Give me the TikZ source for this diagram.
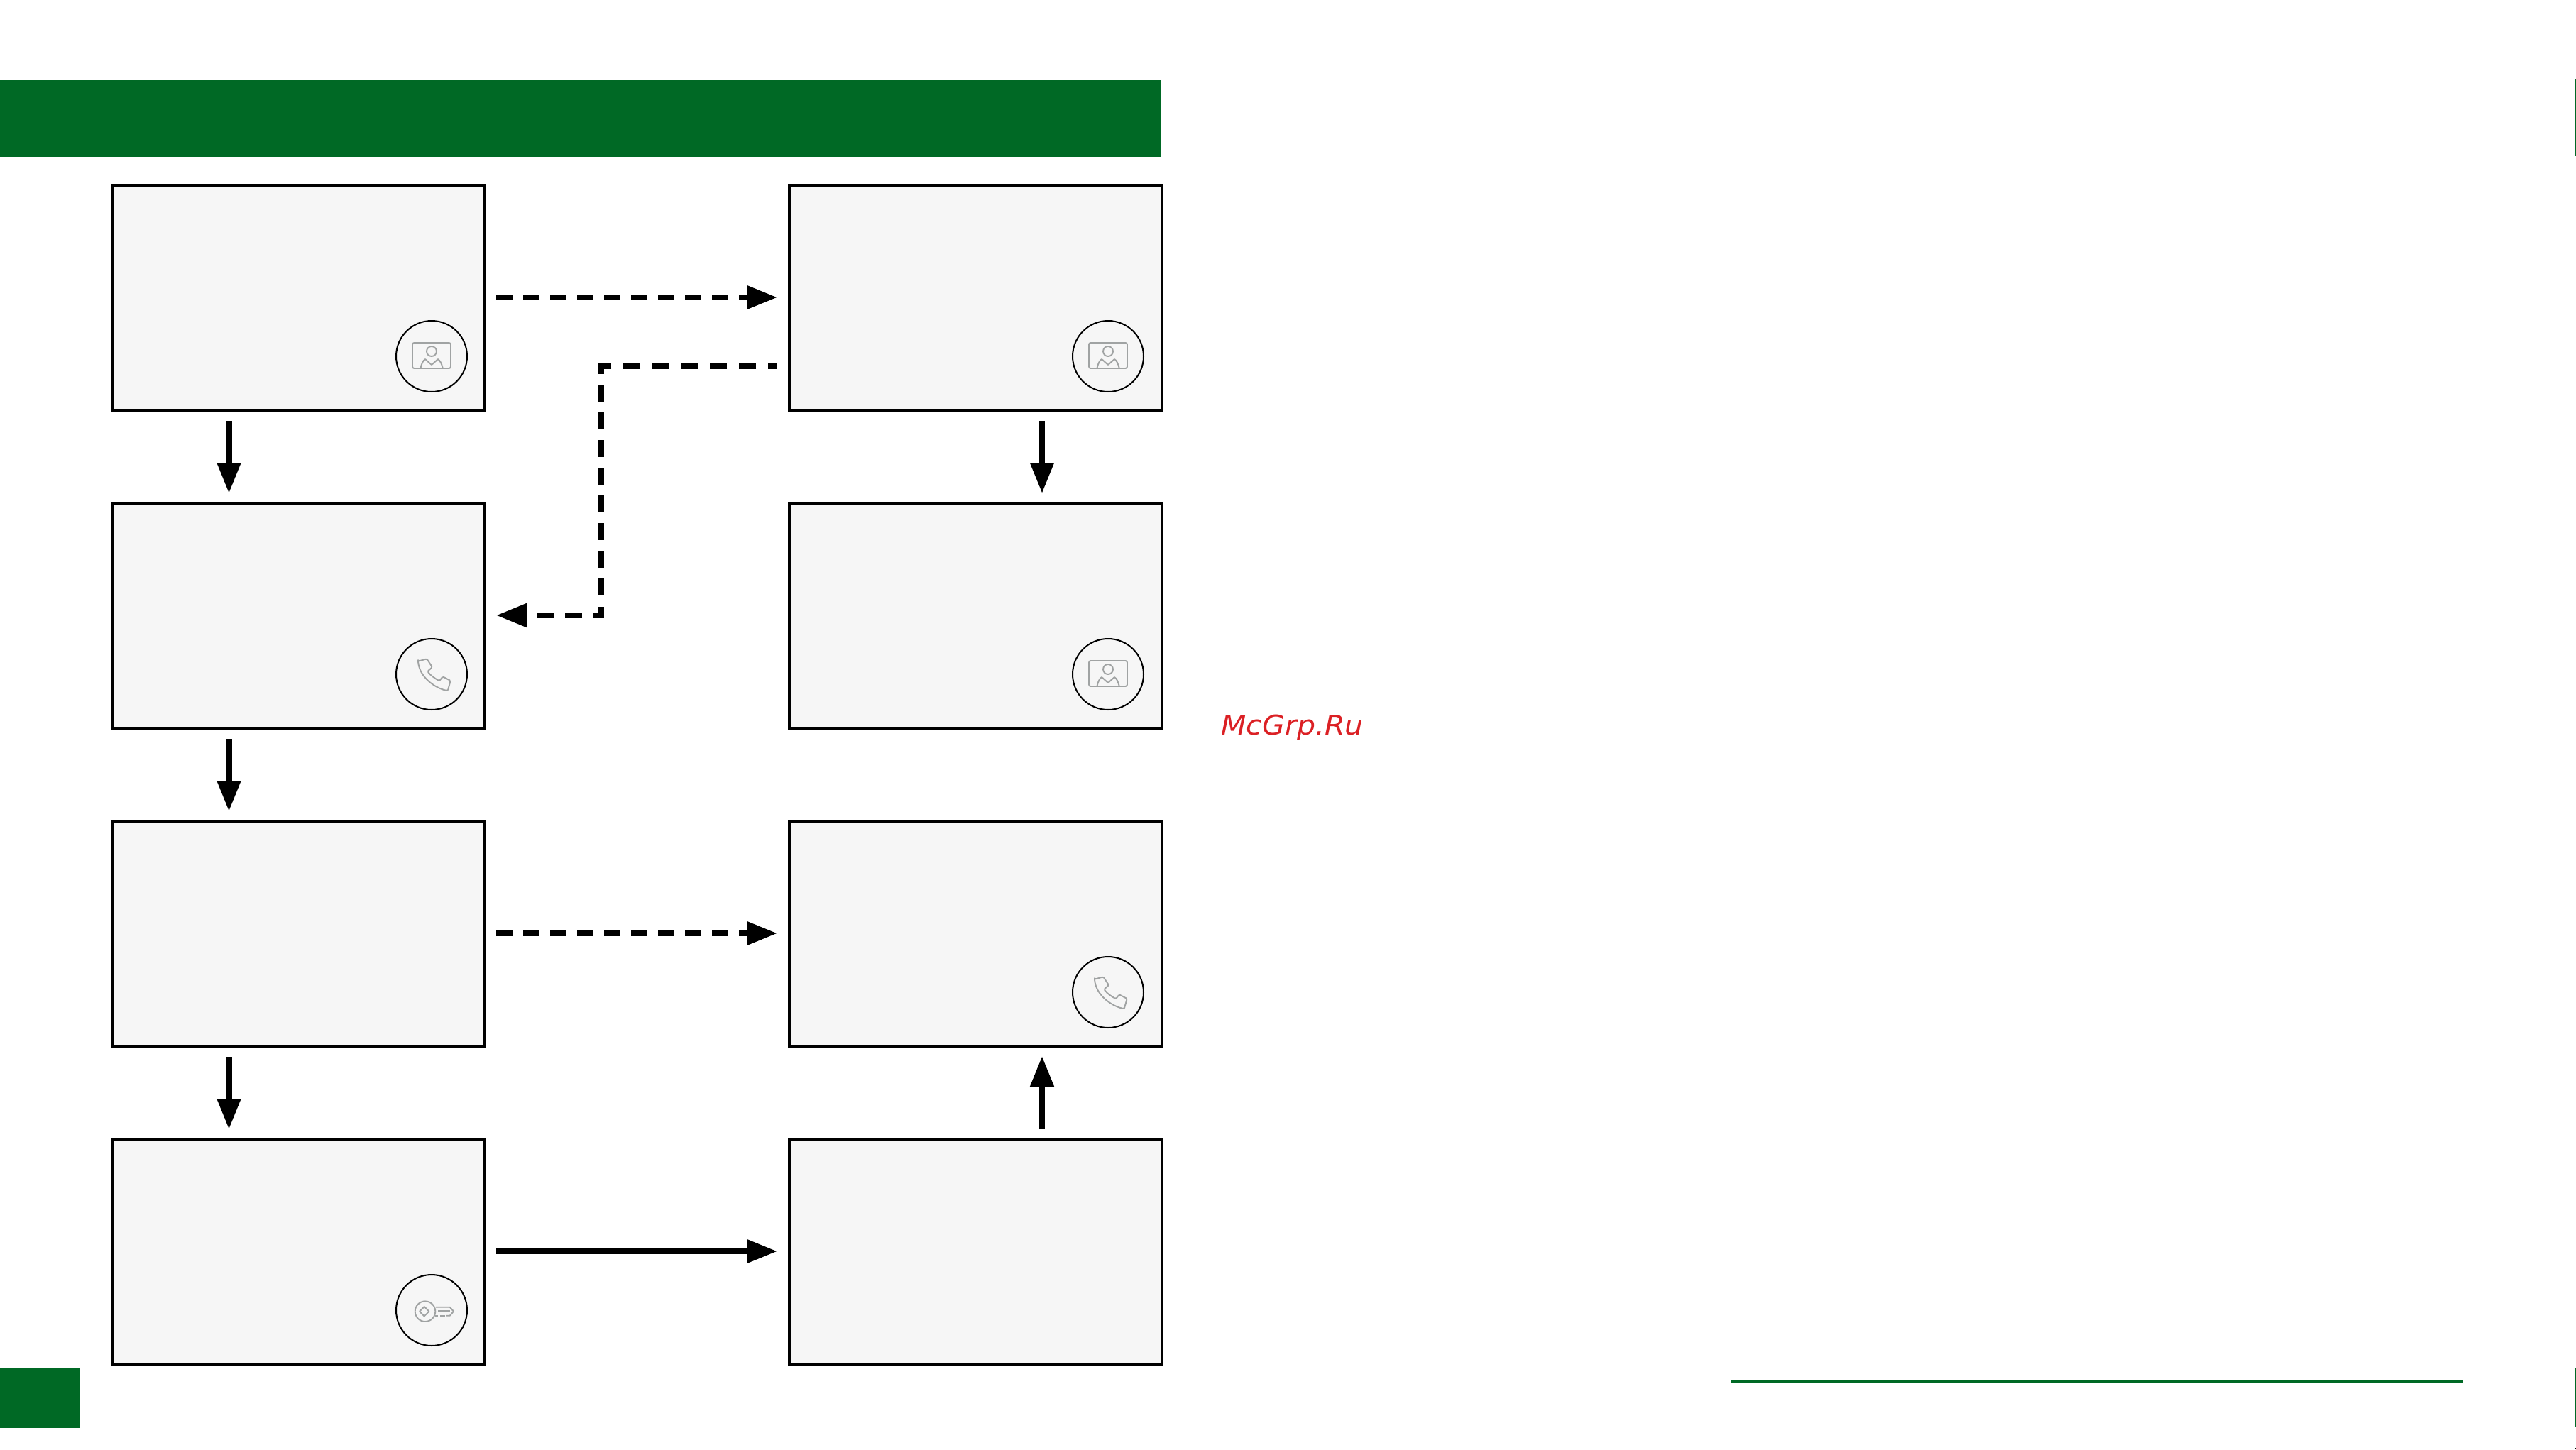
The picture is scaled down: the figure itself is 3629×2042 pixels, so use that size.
\documentclass[tikz,border=0pt]{standalone}
\usepackage{fontspec}
\newfontfamily\wmfont[FakeStretch=1.07]{DejaVu Sans}
\usetikzlibrary{arrows.meta,calc}
\definecolor{brandgreen}{HTML}{006925}
\definecolor{boxfill}{HTML}{F6F6F6}
\definecolor{icongray}{HTML}{A0A3A3}
\definecolor{wmred}{HTML}{DB2024}
\tikzset{
  x=1pt,y=-1pt,
  screen/.style={draw=black,line width=4pt,fill=boxfill,rectangle,minimum width=525pt,minimum height=317pt,inner sep=0pt},
  badge/.style={draw=black,line width=2pt,fill=boxfill,circle,minimum size=100pt,inner sep=0pt},
  flow/.style={line width=8pt,-{Triangle[length=43pt,width=32pt]}},
  maybe/.style={flow,dash pattern=on 23pt off 15pt},
  iconline/.style={draw=icongray,line width=1.9pt,line join=round},
  photoicon/.pic={
    \draw[iconline,rounded corners=2.5pt] (-27,-19) rectangle (27,17);
    \draw[iconline] (0,-7) circle [radius=7];
    \draw[iconline] (-15.5,16.5) .. controls (-14,10) and (-12,6) .. (-9,4) -- (0,12) -- (9,4) .. controls (12,6) and (14,10) .. (15.7,16.5);
  },
  phoneicon/.pic={
    \draw[iconline,rounded corners=1.5pt] (-19,-18.3) -- (-6.7,-21.7) -- (1,-10) -- (-5.7,-4)
      .. controls (-1,2) and (5,6) .. (11,9.3) -- (15.7,3.3) -- (26.7,9) -- (22.7,23.3)
      .. controls (3,19) and (-17,3) .. (-19,-18.3) -- cycle;
  },
  keyicon/.pic={
    \draw[iconline] (-9,1.7) circle [radius=14.3];
    \draw[iconline] (-10.3,-5) -- (-3.6,1.7) -- (-10.3,8.4) -- (-17,1.7) -- cycle;
    \draw[iconline] (6,-4.3) -- (25.7,-4.3) -- (31,1.7) -- (25.7,7.7) -- (21,7.7);
    \draw[iconline] (12,7.7) -- (19,7.7);
    \draw[iconline] (5,7.7) -- (9,7.7);
    \draw[iconline] (9,1.3) -- (25.7,1.3);
  },
}
\begin{document}
\begin{tikzpicture}
\useasboundingbox (0,0) rectangle (3629,2042);
% page furniture
\fill[brandgreen] (0,113) rectangle (1635,221);
\fill[brandgreen] (0,1928) rectangle (113,2012);
\fill[brandgreen] (2439,1944) rectangle (3470,1948);
\fill[brandgreen] (3627,112) rectangle (3629,220);
\fill[brandgreen] (3627,1927) rectangle (3629,2011);
\fill[black] (0,2041) rectangle (820,2042);
\draw[black!70,line width=1pt,dash pattern=on 4pt off 2pt] (820,2041.5) -- (838,2041.5);
\draw[black!50,line width=1pt,dash pattern=on 2pt off 3pt] (848,2041.5) -- (864,2041.5);
\draw[black!60,line width=1pt,dash pattern=on 2pt off 3pt] (989,2041.5) -- (1020,2041.5);
\draw[black!50,line width=1pt,dash pattern=on 2pt off 12pt] (1030,2041.5) -- (1052,2041.5);
\fill[black] (3627,2040) rectangle (3629,2042);
% screens
\node[screen] (a) at (420.5,419.5) {};
\node[screen] (b) at (420.5,867.5) {};
\node[screen] (c) at (420.5,1315.5) {};
\node[screen] (d) at (420.5,1763.5) {};
\node[screen] (e) at (1374.5,419.5) {};
\node[screen] (f) at (1374.5,867.5) {};
\node[screen] (g) at (1374.5,1315.5) {};
\node[screen] (h) at (1374.5,1763.5) {};
% badges
\node[badge] (ia) at (608,502) {};
\node[badge] (ib) at (608,950) {};
\node[badge] (id) at (608,1846) {};
\node[badge] (ie) at (1561,502) {};
\node[badge] (if) at (1561,950) {};
\node[badge] (ig) at (1561,1398) {};
\pic at (ia) {photoicon};
\pic at (ib) {phoneicon};
\pic at (id) {keyicon};
\pic at (ie) {photoicon};
\pic at (if) {photoicon};
\pic at (ig) {phoneicon};
% connector guides
\coordinate (lanea) at (322.5,0);
\coordinate (laneb) at (1468,0);
\coordinate (backy) at (0,516);
\coordinate (backx) at (847,516);
% connectors
\draw[maybe,shorten <=14pt,shorten >=15pt] ([yshift=.5pt]a.east) -- ([yshift=.5pt]e.west);
\draw[maybe,shorten <=14pt,shorten >=15pt] ([yshift=.5pt]c.east) -- ([yshift=.5pt]g.west);
\draw[flow,shorten <=14pt,shorten >=15pt] ([yshift=.5pt]d.east) -- ([yshift=.5pt]h.west);
\draw[flow,shorten <=13pt,shorten >=12pt] (a.south -| lanea) -- (b.north -| lanea);
\draw[flow,shorten <=13pt,shorten >=12pt] (b.south -| lanea) -- (c.north -| lanea);
\draw[flow,shorten <=13pt,shorten >=12pt] (c.south -| lanea) -- (d.north -| lanea);
\draw[flow,shorten <=13pt,shorten >=12pt] (e.south -| laneb) -- (f.north -| laneb);
\draw[flow,shorten <=12pt,shorten >=12pt] (h.north -| laneb) -- (g.south -| laneb);
\draw[flow,shorten >=14pt,
  dash pattern=on 12pt off 17pt on 24pt off 17pt on 24pt off 17pt on 24pt off 17pt on 24pt off 16pt on 25pt off 16pt on 25pt off 15pt
  on 24pt off 15pt on 24pt off 15pt on 24pt off 15pt on 24pt off 15pt on 24pt off 15pt on 24pt off 15pt on 24pt off 15pt on 24pt off 16pt
  on 23pt off 16pt on 24pt off 16pt on 24pt off 80pt]
  ([xshift=-16pt]e.west |- backy) -- (backx) -- ([yshift=.5pt]backx |- b.east) -- ([yshift=.5pt]b.east);
% watermark
\node[anchor=base west,inner sep=0pt,text=wmred,font=\wmfont\itshape\fontsize{38.4pt}{46pt}\selectfont] (wm) at (1720,1035) {McGrp.Ru};
\end{tikzpicture}
\end{document}
